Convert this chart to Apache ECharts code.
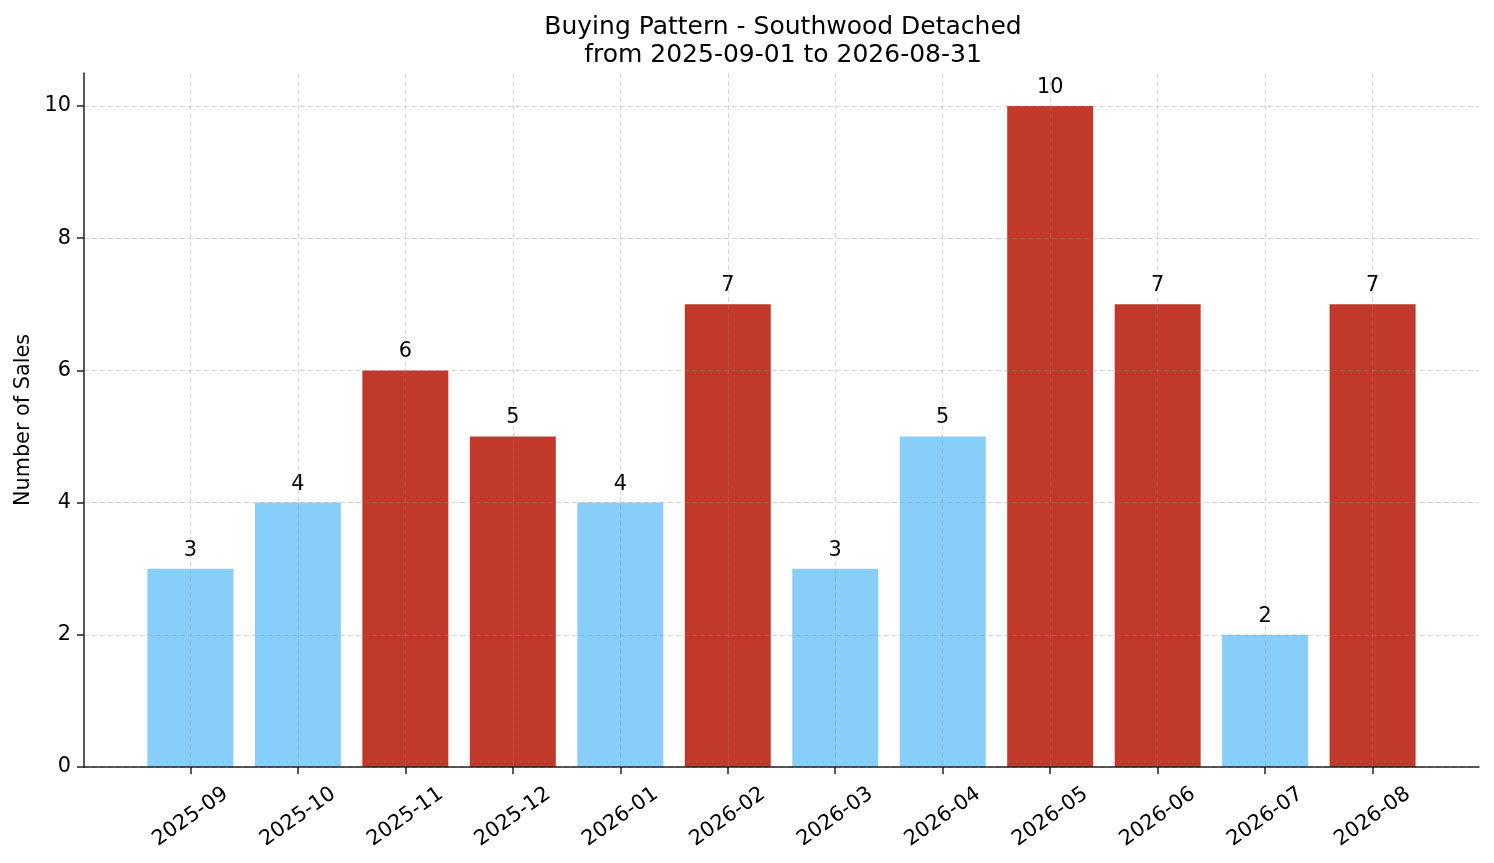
<!DOCTYPE html>
<html>
<head>
<meta charset="utf-8">
<script src="https://cdn.jsdelivr.net/npm/echarts@6/dist/echarts.min.js"></script>
<style>
html,body{margin:0;padding:0;background:#fff;}
#chart{width:1494px;height:863px;}
</style>
</head>
<body>
<div id="chart"></div>
<script>
const categories = ['2025-09','2025-10','2025-11','2025-12','2026-01','2026-02','2026-03','2026-04','2026-05','2026-06','2026-07','2026-08'];
const sales = [3,4,6,5,4,7,3,5,10,7,2,7];
const highlighted = [false,false,true,true,false,true,false,false,true,true,false,true];
const yTicks = [0,2,4,6,8,10];
const titleLines = ['Buying Pattern - Southwood Detached','from 2025-09-01 to 2026-08-31'];
const yLabel = 'Number of Sales';

const BLUE = '#87CEFA', RED = '#C0392B';
const FONT = 'DejaVu Sans';
const FS = 20.8;
const idx = categories.map((c,i)=>i);

const chart = echarts.init(document.getElementById('chart'), null, {renderer:'canvas'});
chart.setOption({
  animation:false,
  backgroundColor:'#fff',
  textStyle:{fontFamily:FONT},
  title:{
    text:titleLines.join('\n'),
    left:778, top:8, textAlign:'center',
    textStyle:{fontFamily:FONT,fontSize:25,fontWeight:'normal',color:'#000',lineHeight:28}
  },
  grid:{left:84,right:15,top:73,bottom:96,containLabel:false},
  xAxis:{
    type:'value', min:-0.99, max:11.99, z:3,
    axisLine:{show:true,onZero:false,lineStyle:{color:'#222',width:1.5}},
    axisTick:{show:true,customValues:idx,length:7,lineStyle:{color:'#222',width:1.5}},
    axisLabel:{customValues:idx,formatter:v=>categories[Math.round(v)]||'',rotate:35,
      align:'center',verticalAlign:'middle',margin:50,fontSize:FS,color:'#000',fontFamily:FONT},
    splitLine:{show:true,lineStyle:{color:'rgba(140,140,140,0.33)',type:[5,3],width:1}}
  },
  yAxis:{
    type:'value', min:0, max:10.5, z:3,
    name:yLabel, nameLocation:'middle', nameGap:49, nameRotate:90,
    nameTextStyle:{fontSize:FS,color:'#000',fontFamily:FONT},
    axisLine:{show:true,onZero:false,lineStyle:{color:'#222',width:1.5}},
    axisTick:{show:true,customValues:yTicks,length:7,lineStyle:{color:'#222',width:1.5}},
    axisLabel:{customValues:yTicks,margin:13,fontSize:FS,color:'#000',fontFamily:FONT},
    splitLine:{show:true,lineStyle:{color:'rgba(140,140,140,0.33)',type:[5,3],width:1}}
  },
  series:[{
    type:'bar',
    barWidth:'80%',
    data:sales.map((v,i)=>({value:[i,v],itemStyle:{color:highlighted[i]?RED:BLUE}})),
    label:{show:true,position:'top',distance:8,formatter:p=>String(p.value[1]),
      fontSize:FS,color:'#000',fontFamily:FONT}
  }]
});
</script>
</body>
</html>
